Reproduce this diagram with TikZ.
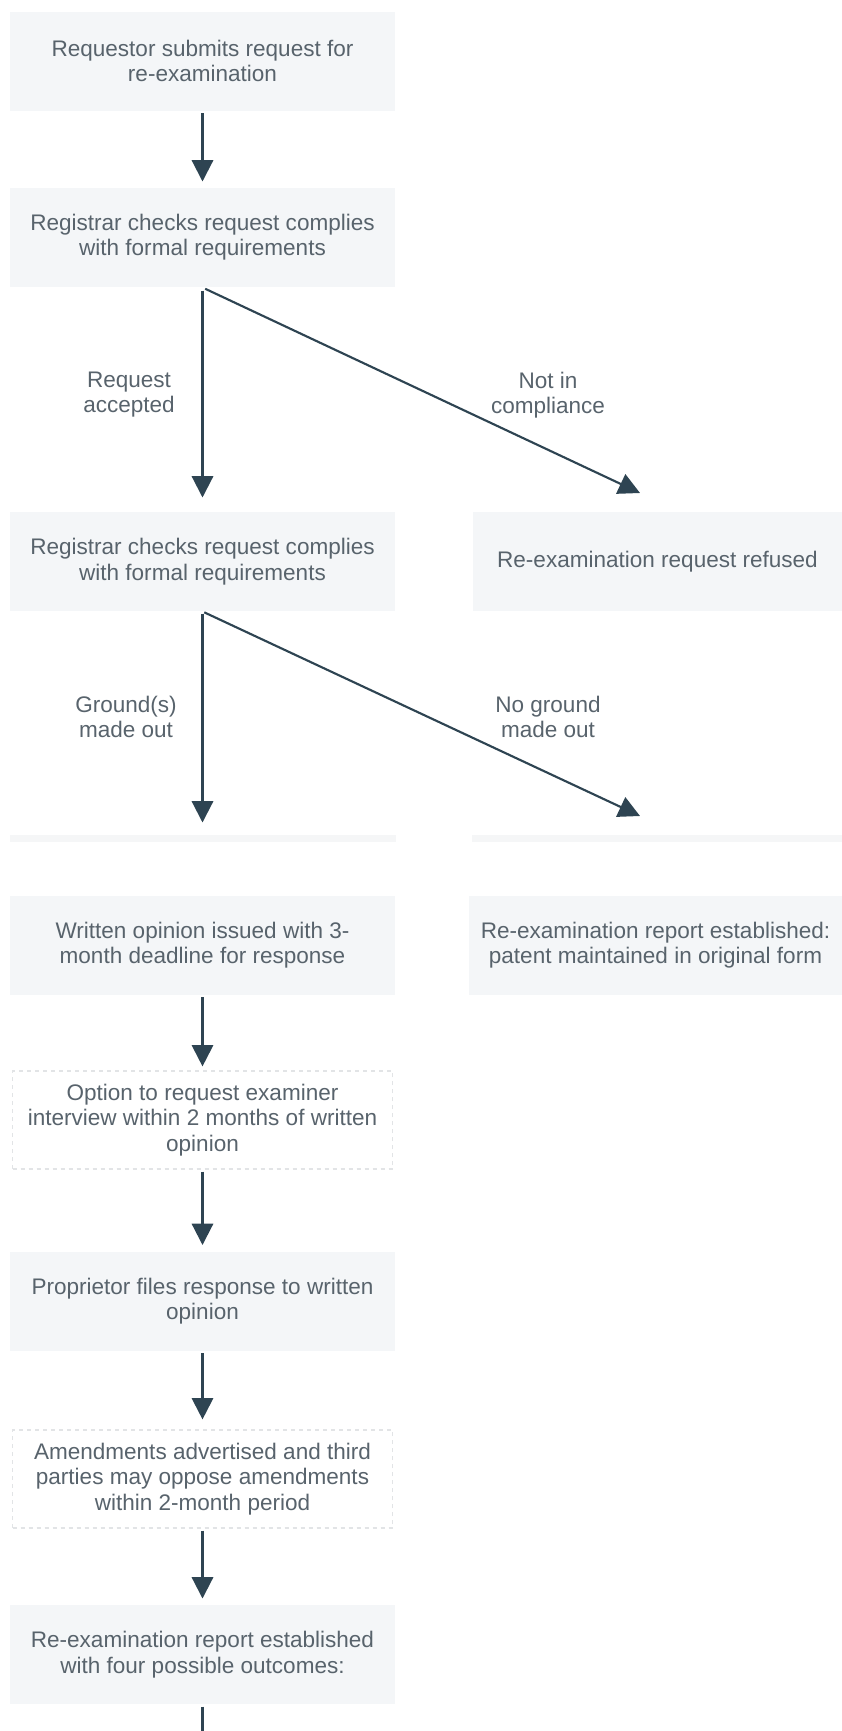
\documentclass[tikz,border=0pt]{standalone}
\usepackage{fontspec}
\setmainfont{Liberation Sans}
\usetikzlibrary{arrows.meta}

\definecolor{boxfill}{RGB}{244,246,248}
\definecolor{stripfill}{RGB}{245,246,247}
\definecolor{txtgray}{RGB}{88,99,108}
\definecolor{arrowslate}{RGB}{46,68,82}
\definecolor{dashgray}{RGB}{226,228,230}

\tikzset{every picture/.style={line width=0.75pt}}
\tikzset{
	stepbox/.style={fill=boxfill, inner sep=0pt, minimum width=288.75pt, minimum height=74.25pt, align=center, text=txtgray, font=\fontsize{16.9}{19}\selectfont},
	optbox/.style={stepbox, fill=white, draw=dashgray, line width=0.9pt, dash pattern=on 3pt off 3pt, minimum width=285pt, minimum height=73.5pt},
	gapstrip/.style={fill=stripfill, inner sep=0pt, minimum height=5.25pt},
	branchlabel/.style={align=center, text=txtgray, font=\fontsize{16.9}{18.75}\selectfont},
	flow/.style={draw=arrowslate, line width=1.6pt, -{Triangle[width=16pt,length=16pt]}, shorten <=1.5pt, shorten >=4.5pt}
}

\begin{document}
\begin{tikzpicture}[x=0.75pt,y=0.75pt,yscale=-1,xscale=1]
		\useasboundingbox (0,0) rectangle (842,1731);

		\node [stepbox] (req) at (202.5,61) {Requestor submits request for\\re-examination};
		\node [stepbox] (chk1) at (202.5,237.5) {Registrar checks request complies\\with formal requirements};
		\node [stepbox] (chk2) at (202.5,561.5) {Registrar checks request complies\\with formal requirements};
		\node [stepbox, minimum width=276.75pt] (refused) at (657.5,561.5) {Re-examination request refused};

		\node [gapstrip, minimum width=289.5pt] (gapL) at (202.5,838.5) {};
		\node [gapstrip, minimum width=277.5pt] (gapR) at (657,838.5) {};

		\node [stepbox] (written) at (202.5,945) {Written opinion issued with 3-\\month deadline for response};
		\node [stepbox, minimum width=279.75pt] (kept) at (655.5,945) {Re-examination report established:\\patent maintained in original form};
		\node [optbox] (option) at (202.5,1120) {Option to request examiner\\interview within 2 months of written\\opinion};
		\node [stepbox] (reply) at (202.5,1301) {Proprietor files response to written\\opinion};
		\node [optbox] (amend) at (202.5,1479) {Amendments advertised and third\\parties may oppose amendments\\within 2-month period};
		\node [stepbox] (report) at (202.5,1654.5) {Re-examination report established\\with four possible outcomes:};

		\coordinate (nocomply) at (640,493);
		\coordinate (noground) at (640,816);
		\coordinate (cont) at (202.5,1731);

		\draw [flow] (req) -- (chk1);
		\draw [flow, shorten <=2.25pt, shorten >=10.5pt] (chk1.south) -- (chk2.north);
		\draw [flow, shorten <=2.25pt, shorten >=0pt] (chk1.south) -- (nocomply);
		\draw [flow, shorten >=9pt] (chk2.south) -- (gapL.north);
		\draw [flow, shorten >=0pt] (chk2.south) -- (noground);
		\draw [flow, shorten >=3pt] (written) -- (option);
		\draw [flow] (option) -- (reply);
		\draw [flow, shorten >=7.5pt] (reply) -- (amend);
		\draw [flow] (amend) -- (report);
		\draw [draw=arrowslate, line width=1.6pt, shorten <=1.5pt] (report.south) -- (cont);

		\node [branchlabel] (accepted) at (129,395) {Request\\accepted};
		\node [branchlabel] (notin) at (548,395) {Not in\\compliance};
		\node [branchlabel] (madeout) at (126,717) {Ground(s)\\made out};
		\node [branchlabel] (nomade) at (548,717) {No ground\\made out};

\end{tikzpicture}
\end{document}
